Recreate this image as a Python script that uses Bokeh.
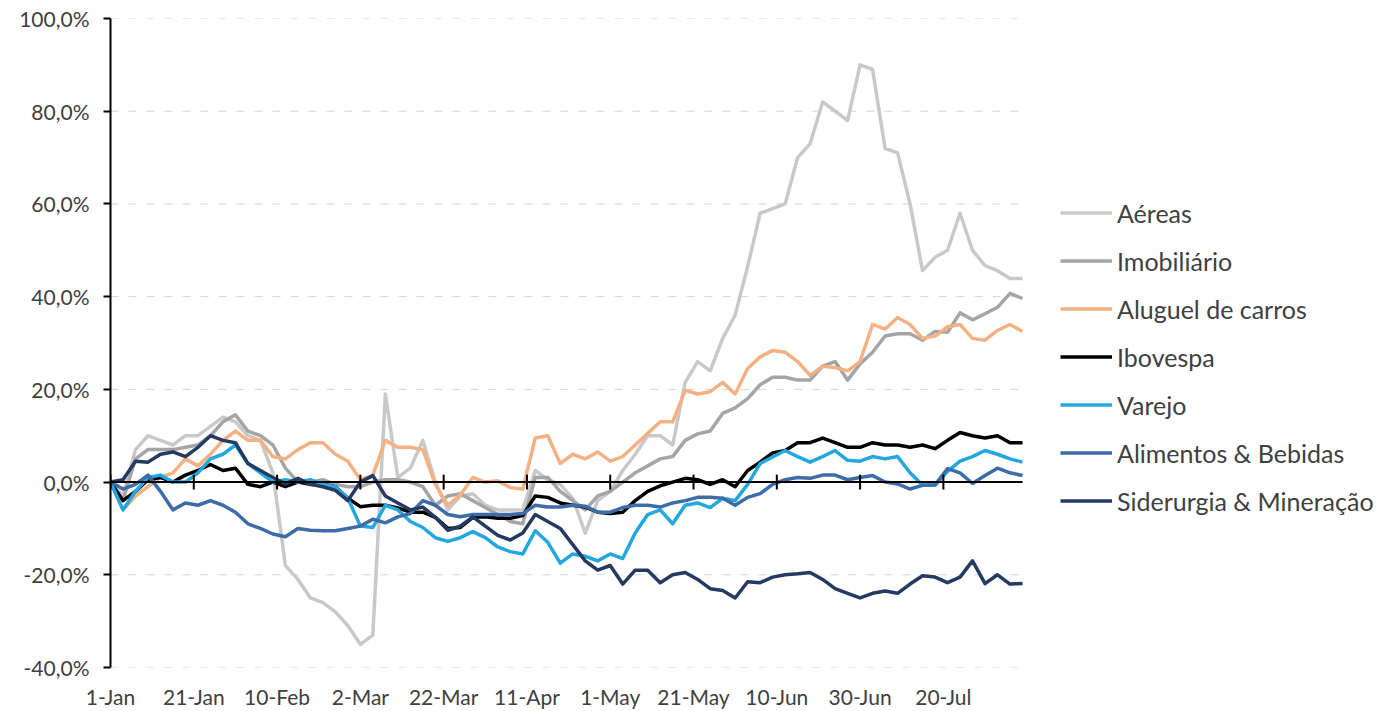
import pandas as pd
from bokeh.plotting import figure
from bokeh.models import Range1d, FixedTicker, Legend, LegendItem, ColumnDataSource
from bokeh.embed import file_html
from bokeh.resources import INLINE

# ---------------- data (values in %, one point every 3 days from 1-Jan) ----------------
START_DATE = "2021-01-01"
STEP = "3D"

SERIES = ["Aéreas", "Imobiliário", "Aluguel de carros", "Ibovespa", "Varejo",
          "Alimentos & Bebidas", "Siderurgia & Mineração"]

AEREAS = [0, -3, 7, 10, 9, 8, 10, 10, 12, 14,
          13, 10, 9, 2, -18, -21, -25, -26, -28, -31,
          -35, -33, 19, 1, 3, 9, 0, -6, -3, -2.5,
          -5, -6, -6, -6, 2.5, 0.5, -0.5, -3.5, -11, -4,
          -2, 2.5, 6, 10, 10, 8, 21.5, 26, 24, 31,
          36, 46.5, 58, 59, 60, 70, 73, 82, 80, 78,
          90, 89, 72, 71, 60, 45.6, 48.5, 50, 58, 50,
          46.7, 45.6, 43.9, 43.9]

IMOBILIARIO = [0, -4, 5, 7, 7, 7, 7.5, 8, 10, 13,
               14.5, 11, 10, 8, 3, 0, 0, 0.5, -0.5, -1,
               -1, 0, 0.5, 0.5, 0, -1, -5, -3, -2.5, -4,
               -5.5, -7, -8.5, -9, 1, 1, -2, -4, -6, -3,
               -2, 0, 2, 3.5, 5, 5.5, 9, 10.4, 11, 14.8,
               16, 18, 21, 22.6, 22.6, 22, 22, 25, 26, 22,
               25.5, 28, 31.5, 32, 32, 30.6, 32.5, 32.3, 36.5, 35,
               36.3, 37.7, 40.7, 39.6]

ALUGUEL = [0, -6, -3, -1, 1, 2, 5, 3.5, 6, 9,
           11, 9, 9, 5.5, 5, 7, 8.5, 8.5, 6, 4.5,
           0.5, 1.5, 9, 7.5, 7.5, 7, -0.5, -5, -2.8, 1,
           0, 0.3, -1.2, -1.5, 9.5, 10, 4, 6, 5, 6.5,
           4.5, 5.5, 8, 10.5, 13, 13, 19.8, 19, 19.5, 21.5,
           19, 24.5, 27, 28.4, 28, 26, 23, 25, 24.7, 24,
           26, 34, 33, 35.5, 34, 31, 31.5, 33.5, 34, 31,
           30.6, 32.7, 34, 32.5]

IBOVESPA = [0, -4, -2, 0.5, 1, 0, 1.5, 2.5, 3.8, 2.5,
            3, -0.5, -1, 0, -1, 0, -0.5, -0.5, -1, -3.5,
            -5.3, -5, -5, -5.6, -6.5, -6.5, -7.6, -10, -9.8, -7.6,
            -7.5, -7.8, -7.8, -7.2, -3, -3.3, -4.5, -5, -5.4, -6.5,
            -6.8, -6.5, -4, -2, -0.8, 0, 0.8, 0.5, -0.5, 0.5,
            -1, 2.5, 4.3, 6.3, 6.8, 8.5, 8.5, 9.5, 8.5, 7.5,
            7.5, 8.5, 8, 8, 7.5, 8, 7.2, 9, 10.7, 10,
            9.5, 10, 8.5, 8.5]

VAREJO = [0, -6, -2, 1, 1.5, 0, 0, 2, 5, 6,
          8, 4, 2, 0, 0.5, 0, 0.5, -0.5, -1, -3.5,
          -9.5, -9.8, -5, -6, -8.5, -9.8, -12, -12.8, -12, -10.7,
          -12, -14, -15, -15.5, -10.5, -13, -17.5, -15.5, -16, -17,
          -15.5, -16.5, -11, -7, -6, -9, -5, -4.5, -5.5, -3.5,
          -4, -0.5, 4, 5.4, 6.8, 5.5, 4.3, 5.5, 6.8, 4.7,
          4.5, 5.5, 5, 5.5, 2, -0.7, -0.7, 2.3, 4.5, 5.5,
          6.8, 6, 5, 4.3]

ALIMENTOS = [0, -1.5, -0.5, 1.5, -2, -6, -4.5, -5, -4, -5,
             -6.5, -9, -10, -11.2, -11.8, -10, -10.4, -10.5, -10.5, -10,
             -9.5, -8, -8.8, -7.5, -6.8, -4, -5, -7, -7.5, -7,
             -7, -7, -7, -6.8, -5, -5.4, -5.4, -5, -5.2, -6.5,
             -6.5, -5.5, -5, -5, -5.4, -4.5, -4, -3.3, -3.3, -3.5,
             -5, -3.3, -2.5, -0.5, 0.5, 1, 0.8, 1.5, 1.5, 0.5,
             1, 1.4, 0, -0.4, -1.5, -0.7, -0.6, 2.9, 2, -0.3,
             1.4, 3, 2, 1.4]

SIDERURGIA = [0, 0.5, 4.5, 4.3, 6, 6.5, 5.5, 7.5, 10, 9,
              8.5, 4, 2.5, 1, -0.4, 0.8, -0.5, -1, -1.8, -4,
              0, 1.4, -3, -4.5, -6, -5.4, -7.6, -10.4, -9.5, -7.5,
              -9.5, -11.5, -12.5, -11, -7, -8.5, -10, -13.5, -17, -19,
              -18, -22, -19, -19, -21.7, -20, -19.5, -21, -23, -23.4,
              -25, -21.5, -21.7, -20.5, -20, -19.8, -19.5, -21, -23, -24,
              -25, -24, -23.5, -24, -22, -20.2, -20.5, -21.7, -20.5, -17,
              -21.9, -20, -22, -21.9]

VALUES = [AEREAS, IMOBILIARIO, ALUGUEL, IBOVESPA, VAREJO, ALIMENTOS, SIDERURGIA]
COLORS = ["#C9C9C9", "#A5A5A5", "#F4B183", "#000000", "#22A7DE", "#3D6DA8", "#243A62"]

TICK_LABELS = ["1-Jan", "21-Jan", "10-Feb", "2-Mar", "22-Mar", "11-Apr",
               "1-May", "21-May", "10-Jun", "30-Jun", "20-Jul"]
Y_TICKS = [-40, -20, 0, 20, 40, 60, 80, 100]

# ---------------- build ----------------
dates = pd.date_range(START_DATE, periods=len(AEREAS), freq=STEP)
year = START_DATE[:4]
tick_dates = [pd.to_datetime(f"{t}-{year}", format="%d-%b-%Y") for t in TICK_LABELS]
tick_ms = [int(d.value // 10**6) for d in tick_dates]

FONT = "Lato"
TXT = "#404040"

W, H = 1393, 711
LEFT, TOP, BOTTOM = 110, 18, 43
PLOT_RIGHT = 1022                     # where the plotted area ends (px)
span = dates[-1] - dates[0]
x_end = dates[-1] + span * ((W - PLOT_RIGHT) / (PLOT_RIGHT - LEFT))   # room for the legend

p = figure(width=W, height=H, x_axis_type="datetime",
           x_range=Range1d(dates[0], x_end), y_range=Range1d(-40, 100),
           output_backend="svg", toolbar_location=None,
           min_border_left=LEFT, min_border_right=0, min_border_top=TOP, min_border_bottom=BOTTOM)
p.outline_line_color = None
p.background_fill_color = "white"
p.border_fill_color = "white"

# x axis (labels only, at bottom)
xa = p.xaxis[0]
xa.ticker = FixedTicker(ticks=tick_ms)
xa.major_label_overrides = {ms: lbl for ms, lbl in zip(tick_ms, TICK_LABELS)}
xa.axis_line_color = None
xa.major_tick_line_color = None
xa.minor_tick_line_color = None
xa.major_label_standoff = 10
xa.major_label_text_font = FONT
xa.major_label_text_font_size = "21px"
xa.major_label_text_color = TXT

# y axis
ya = p.yaxis[0]
ya.ticker = FixedTicker(ticks=Y_TICKS)
ya.major_label_overrides = {v: f"{v:.1f}".replace(".", ",") + "%" for v in Y_TICKS}
ya.axis_line_color = "black"
ya.axis_line_width = 2
ya.major_tick_line_color = "black"
ya.major_tick_line_width = 2
ya.major_tick_out = 7
ya.major_tick_in = 0
ya.minor_tick_line_color = None
ya.major_label_standoff = 14
ya.major_label_text_font = FONT
ya.major_label_text_font_size = "21px"
ya.major_label_text_color = TXT

# gridlines limited to the date span
p.xgrid.visible = False
p.ygrid.visible = False
grid_vals = [t for t in Y_TICKS if t != 0]
p.segment(x0=[dates[0]] * len(grid_vals), x1=[dates[-1]] * len(grid_vals),
          y0=grid_vals, y1=grid_vals, line_color="#D4D4D4", line_width=1, line_dash="8 10")

# series
renderers = []
for name, vals, col in zip(SERIES, VALUES, COLORS):
    src = ColumnDataSource(dict(x=dates, y=vals))
    r = p.line("x", "y", source=src, line_color=col, line_width=3.5, line_join="round")
    renderers.append(r)

# zero line with cross ticks
p.segment(x0=[dates[0]], x1=[dates[-1]], y0=[0], y1=[0], line_color="black", line_width=2)
p.segment(x0=tick_dates, y0=[-1.6] * len(tick_dates), x1=tick_dates, y1=[1.6] * len(tick_dates),
          line_color="black", line_width=2)

legend = Legend(items=[LegendItem(label=n, renderers=[r]) for n, r in zip(SERIES, renderers)],
                location=(950, 151), orientation="vertical",
                glyph_width=52, glyph_height=31, label_height=31, spacing=17,
                label_standoff=5, padding=0, margin=0,
                border_line_color=None, background_fill_alpha=0,
                label_text_font=FONT, label_text_font_size="25px", label_text_color=TXT)
p.add_layout(legend)

open("out.html", "w").write(file_html(p, INLINE))
